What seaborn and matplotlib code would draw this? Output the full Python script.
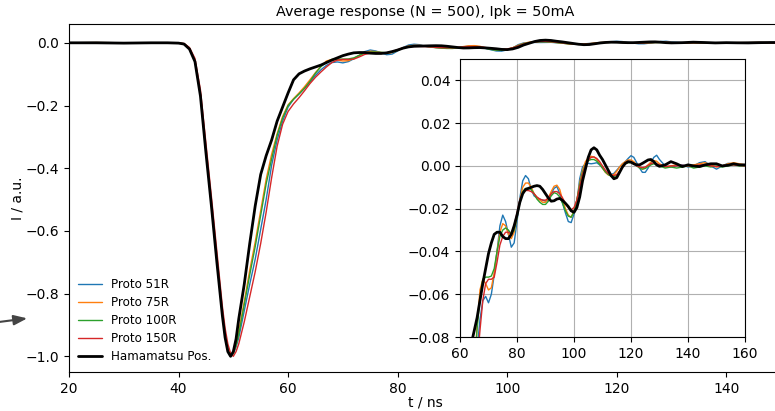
import matplotlib
matplotlib.use("Agg")
import matplotlib.pyplot as plt
import seaborn as sns
import pandas as pd

# ---------------- data ----------------
t_ns = [20, 25, 30, 35, 38,
        40, 41, 42, 43, 44, 45, 46, 47, 48, 48.5, 49, 49.5, 50, 50.5,
        51, 52, 53, 54, 55, 56, 57, 58, 59, 60, 61, 62, 63, 64, 65, 66,
        67, 68, 69, 70, 71, 72, 73, 74, 75, 76,
        77, 78, 79, 80, 81, 82, 83, 84, 85, 86,
        87, 88, 89, 90, 91, 92, 93, 94, 95, 96,
        97, 98, 99, 100, 101, 102, 103, 104, 105, 106,
        107, 108, 109, 110, 111, 112, 113, 114, 115, 116,
        117, 118, 119, 120, 121, 122, 123, 124, 125, 126,
        127, 128, 129, 130,
        132, 134, 136, 138, 140, 142, 144, 146, 148, 150, 152, 154, 156, 158, 160]

proto_51R = [0.0, 0.001, 0.0, -0.001, 0.0,
             -0.001, -0.003, -0.018, -0.058, -0.165, -0.345, -0.515, -0.695, -0.865, -0.935, -0.978, -0.998, -0.992, -0.97,
             -0.94, -0.855, -0.77, -0.69, -0.595, -0.50, -0.39, -0.31, -0.25, -0.205, -0.18, -0.163, -0.145, -0.125, -0.104, -0.086,
             -0.072, -0.063, -0.061, -0.064, -0.060, -0.051, -0.040, -0.028, -0.023, -0.026,
             -0.032, -0.038, -0.036, -0.026, -0.015, -0.007, -0.0045, -0.006, -0.011, -0.014,
             -0.015, -0.0155, -0.016, -0.0165, -0.016, -0.013, -0.0105, -0.0096, -0.013, -0.0175,
             -0.022, -0.026, -0.0265, -0.0225, -0.017, -0.006, -0.0005, 0.001, 0.0012, 0.001,
             0.0012, 0.0015, 0.0005, -0.001, -0.0025, -0.0035, -0.004, -0.0035, -0.002, -0.0005,
             0.001, 0.002, 0.0035, 0.0048, 0.004, 0.0015, -0.001, -0.003, -0.003, -0.001,
             0.0015, 0.004, 0.005, 0.003,
             0.0, -0.0005, 0.0, 0.0005, -0.0005, 0.0, 0.0015, 0.002, 0.0, -0.0015, 0.0, 0.0012, 0.001, 0.0005, 0.0]

proto_75R = [0.0, 0.001, 0.0, -0.001, 0.0,
             -0.001, -0.003, -0.018, -0.058, -0.165, -0.345, -0.515, -0.695, -0.865, -0.935, -0.978, -0.998, -0.99, -0.962,
             -0.92, -0.825, -0.725, -0.635, -0.535, -0.435, -0.355, -0.29, -0.235, -0.198, -0.178, -0.16, -0.14, -0.118, -0.095, -0.075,
             -0.058, -0.053, -0.055, -0.058, -0.057, -0.050, -0.040, -0.031, -0.027, -0.028,
             -0.032, -0.034, -0.031, -0.024, -0.016, -0.010, -0.008, -0.008, -0.010, -0.013,
             -0.015, -0.016, -0.017, -0.017, -0.015, -0.012, -0.0095, -0.009, -0.011, -0.016,
             -0.020, -0.023, -0.024, -0.021, -0.016, -0.008, -0.002, 0.002, 0.0038, 0.0045,
             0.0042, 0.003, 0.001, -0.001, -0.003, -0.0042, -0.0045, -0.004, -0.0025, -0.0005,
             0.001, 0.002, 0.0028, 0.0028, 0.002, 0.0005, -0.0008, -0.0015, -0.001, 0.0005,
             0.0018, 0.0025, 0.0022, 0.001,
             -0.0005, 0.0, 0.0005, 0.0, 0.0, 0.0005, 0.001, 0.0015, 0.0005, -0.0005, 0.0, 0.001, 0.0015, 0.001, 0.0005]

proto_100R = [0.0, 0.0, 0.0, 0.0, 0.0,
              -0.001, -0.003, -0.018, -0.058, -0.165, -0.345, -0.515, -0.695, -0.865, -0.935, -0.978, -0.998, -0.99, -0.965,
              -0.93, -0.835, -0.74, -0.65, -0.55, -0.45, -0.37, -0.295, -0.24, -0.20, -0.18, -0.163, -0.145, -0.123, -0.097, -0.076,
              -0.062, -0.053, -0.052, -0.052, -0.0515, -0.048, -0.040, -0.033, -0.030, -0.029,
              -0.030, -0.032, -0.030, -0.024, -0.017, -0.012, -0.0105, -0.0105, -0.011, -0.013,
              -0.0155, -0.017, -0.018, -0.018, -0.0165, -0.014, -0.0125, -0.013, -0.0145, -0.0175,
              -0.021, -0.0235, -0.024, -0.0215, -0.016, -0.009, -0.003, 0.0005, 0.0025, 0.003,
              0.003, 0.0022, 0.0008, -0.001, -0.0028, -0.004, -0.0048, -0.005, -0.0045, -0.0025,
              -0.0005, 0.001, 0.0015, 0.0015, 0.001, 0.0, -0.001, -0.0015, -0.0012, -0.0003,
              0.0005, 0.001, 0.0008, 0.0,
              -0.001, -0.0005, -0.001, -0.0005, 0.0, -0.001, -0.0005, 0.0, -0.0005, 0.0, -0.0005, 0.0, 0.0005, 0.0, 0.0]

proto_150R = [0.0, 0.0, 0.0, 0.0, 0.0,
              -0.001, -0.002, -0.015, -0.05, -0.15, -0.32, -0.49, -0.665, -0.84, -0.91, -0.96, -0.99, -1.0, -0.985,
              -0.96, -0.89, -0.81, -0.73, -0.64, -0.54, -0.43, -0.33, -0.26, -0.219, -0.195, -0.175, -0.153, -0.13, -0.11, -0.093,
              -0.077, -0.063, -0.055, -0.053, -0.053, -0.052, -0.045, -0.037, -0.033, -0.031,
              -0.031, -0.032, -0.028, -0.022, -0.016, -0.0125, -0.0115, -0.0115, -0.012, -0.013,
              -0.0145, -0.0155, -0.016, -0.016, -0.015, -0.013, -0.012, -0.012, -0.013, -0.015,
              -0.0175, -0.0195, -0.0205, -0.0195, -0.016, -0.010, -0.004, 0.0, 0.0028, 0.004,
              0.0042, 0.0035, 0.002, 0.0, -0.002, -0.0035, -0.0042, -0.0045, -0.004, -0.0025,
              -0.0005, 0.001, 0.0018, 0.0018, 0.001, 0.0, -0.0005, -0.0008, -0.0005, 0.0003,
              0.001, 0.0015, 0.001, 0.0005,
              -0.0003, 0.0, 0.0, 0.0003, 0.0, 0.0, 0.0005, 0.0005, 0.0, -0.0003, 0.0, 0.0005, 0.0005, 0.0003, 0.0]

hamamatsu_pos = [0.0, 0.0, -0.001, 0.0, 0.0,
                 -0.001, -0.004, -0.02, -0.06, -0.17, -0.35, -0.52, -0.70, -0.87, -0.94, -0.985, -1.0, -0.985, -0.945,
                 -0.88, -0.77, -0.64, -0.52, -0.42, -0.36, -0.31, -0.25, -0.205, -0.16, -0.118, -0.099, -0.09, -0.083, -0.077, -0.071,
                 -0.063, -0.055, -0.048, -0.041, -0.036, -0.032, -0.031, -0.031, -0.033, -0.034,
                 -0.034, -0.032, -0.028, -0.023, -0.017, -0.013, -0.011, -0.0105, -0.0100, -0.0095,
                 -0.0092, -0.0095, -0.011, -0.013, -0.015, -0.0165, -0.0163, -0.0155, -0.0152, -0.0162,
                 -0.0175, -0.019, -0.021, -0.0217, -0.0195, -0.0145, -0.007, -0.0015, 0.004, 0.0075,
                 0.0085, 0.0075, 0.005, 0.003, 0.0005, -0.002, -0.0045, -0.006, -0.0055, -0.003,
                 -0.0005, 0.0012, 0.002, 0.0018, 0.001, 0.0005, 0.0005, 0.0012, 0.002, 0.0028,
                 0.003, 0.002, 0.0005, -0.0002,
                 0.0005, 0.002, 0.001, -0.0003, 0.0005, 0.0, -0.0003, 0.0005, 0.001, 0.001, 0.0, 0.0003, 0.001, 0.0005, 0.0005]

series_names = ["Proto 51R", "Proto 75R", "Proto 100R", "Proto 150R", "Hamamatsu Pos."]
series_values = [proto_51R, proto_75R, proto_100R, proto_150R, hamamatsu_pos]
series_colors = ["#1f77b4", "#ff7f0e", "#2ca02c", "#d62728", "black"]
series_widths = [1.0, 1.0, 1.0, 1.0, 2.0]

main_xticks = [20, 40, 60, 80, 100, 120, 140]
main_yticks = [0.0, -0.2, -0.4, -0.6, -0.8, -1.0]
inset_xticks = [60, 80, 100, 120, 140, 160]
inset_yticks = [0.04, 0.02, 0.00, -0.02, -0.04, -0.06, -0.08]

title_text = "Average response (N = 500), Ipk = 50mA"

# ---------------- figure ----------------
sns.set_style("ticks", rc={"axes.edgecolor": "black", "xtick.color": "black",
                           "ytick.color": "black", "text.color": "black",
                           "axes.labelcolor": "black"})
plt.rcParams["font.family"] = ["DejaVu Sans"]
plt.rcParams["font.size"] = 10

df = pd.DataFrame({"t": t_ns})
for name, vals in zip(series_names, series_values):
    df[name] = vals

fig = plt.figure(figsize=(7.75, 4.11), dpi=100)
W, H = 775, 411
ax = fig.add_axes([69 / W, (H - 372) / H, 712 / W, 348 / H])

for name, c, lw in zip(series_names, series_colors, series_widths):
    sns.lineplot(data=df, x="t", y=name, ax=ax, color=c, linewidth=lw, label=name)

ax.set_xlim(20, 150)
ax.set_ylim(-1.05, 0.06)
ax.set_xticks(main_xticks)
ax.set_yticks(main_yticks)
ax.set_xlabel("t / ns", labelpad=0)
ax.set_ylabel("I / a.u.", labelpad=1)
ax.set_title(title_text, fontsize=10.4)
ax.legend(loc="lower left", frameon=False, fontsize=8.6, labelspacing=0.42,
          handletextpad=0.8, borderaxespad=0.35)

# inset
axi = fig.add_axes([460 / W, (H - 337) / H, 285 / W, 278 / H])
for name, c, lw in zip(series_names, series_colors, series_widths):
    sns.lineplot(data=df, x="t", y=name, ax=axi, color=c, linewidth=lw, legend=False)
axi.set_xlim(60, 160)
axi.set_ylim(-0.08, 0.05)
axi.set_xticks(inset_xticks)
axi.set_yticks(inset_yticks)
axi.set_yticklabels([f"{v:.2f}".replace("-", "\u2212") for v in inset_yticks])
axi.set_xlabel("")
axi.set_ylabel("")
axi.grid(True, color="#b0b0b0", linewidth=0.8)
axi.set_axisbelow(True)

# arrow coming from the left edge
ax.annotate("", xy=(30 / W, (H - 318) / H), xycoords="figure fraction",
            xytext=(-5 / W, (H - 322.5) / H), textcoords="figure fraction",
            arrowprops=dict(arrowstyle="-|>,head_length=0.8,head_width=0.3",
                            color="#444444", lw=1.5))

fig.savefig("out.png", dpi=100)
